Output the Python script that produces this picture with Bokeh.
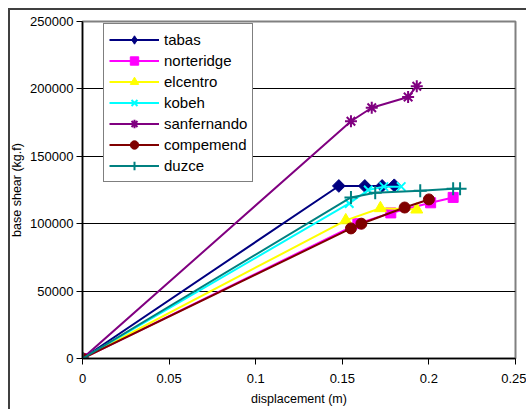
import numpy as np
from bokeh.plotting import figure
from bokeh.models import FixedTicker, Range1d, Legend, LegendItem
from bokeh.embed import file_html
from bokeh.resources import INLINE

# ---- data -------------------------------------------------------------
x_ticks = [0, 0.05, 0.1, 0.15, 0.2, 0.25]
x_tick_labels = ["0", "0.05", "0.1", "0.15", "0.2", "0.25"]
y_ticks = [0, 50000, 100000, 150000, 200000, 250000]
y_tick_labels = ["0", "50000", "100000", "150000", "200000", "250000"]

series_names = ["tabas", "norteridge", "elcentro", "kobeh",
                "sanfernando", "compemend", "duzce"]

tabas_x = [0, 0.148, 0.163, 0.173, 0.180]
tabas_y = [0, 128000, 128000, 128000, 128500]

norteridge_x = [0, 0.159, 0.178, 0.201, 0.214]
norteridge_y = [0, 100000, 108000, 115500, 119500]

elcentro_x = [0, 0.152, 0.172, 0.193]
elcentro_y = [0, 102500, 111500, 110500]

kobeh_x = [0, 0.154, 0.165, 0.174, 0.184]
kobeh_y = [0, 115000, 125000, 127500, 127500]

sanfernando_x = [0, 0.155, 0.167, 0.188, 0.193]
sanfernando_y = [0, 176000, 186000, 194000, 202000]

compemend_x = [0, 0.155, 0.161, 0.186, 0.200]
compemend_y = [0, 96500, 100000, 112000, 118000]

duzce_x = [0, 0.155, 0.169, 0.195, 0.214, 0.218]
duzce_y = [0, 119500, 123000, 124500, 126000, 126000]

series_x = [tabas_x, norteridge_x, elcentro_x, kobeh_x,
            sanfernando_x, compemend_x, duzce_x]
series_y = [tabas_y, norteridge_y, elcentro_y, kobeh_y,
            sanfernando_y, compemend_y, duzce_y]

# ---- styles -----------------------------------------------------------
colors = ["#000080", "#FF00FF", "#FFFF00", "#00FFFF",
          "#800080", "#800000", "#008080"]
markers = ["square", "square", "triangle", "x",
           "asterisk", "circle", "cross"]
legend_markers = ["diamond", "square", "triangle", "x",
                  "asterisk", "circle", "cross"]
sizes = [9, 10, 12, 12, 12, 11, 13]
angles = [np.pi / 4, 0, 0, 0, 0, 0, 0]
mline = [1, 1, 1, 2, 2, 1, 2]

FONT = "Liberation Sans"

p = figure(width=526, height=409, output_backend="svg", toolbar_location=None,
           x_range=Range1d(0, 0.25), y_range=Range1d(0, 250000),
           min_border_left=82, min_border_right=11,
           min_border_top=21, min_border_bottom=51)

p.border_fill_alpha = 0
p.background_fill_color = "white"
p.styles = {
    "background": "linear-gradient(#404040,#404040) 8px 8px / 2px 100% no-repeat, "
                  "linear-gradient(#404040,#404040) 8px 8px / 100% 2px no-repeat, #ffffff"
}
p.outline_line_color = "#808080"
p.outline_line_width = 2

# axes
p.xaxis.ticker = FixedTicker(ticks=x_ticks)
p.yaxis.ticker = FixedTicker(ticks=y_ticks)
p.xaxis.major_label_overrides = dict(zip(x_ticks, x_tick_labels))
p.yaxis.major_label_overrides = dict(zip(y_ticks, y_tick_labels))
for ax in (p.xaxis, p.yaxis):
    ax.minor_tick_line_color = None
    ax.major_tick_out = 6
    ax.major_tick_in = 0
    ax.axis_line_color = "black"
    ax.axis_line_width = 1.5
    ax.major_tick_line_color = "black"
    ax.major_tick_line_width = 1
    ax.major_label_text_font = FONT
    ax.major_label_text_font_size = "13px"
    ax.major_label_text_color = "black"
    ax.axis_label_text_font = FONT
    ax.axis_label_text_font_size = "12.5px"
    ax.axis_label_text_font_style = "normal"
    ax.axis_label_text_color = "black"

p.xaxis.axis_label = "displacement (m)"
p.yaxis.axis_label = "base shear (kg.f)"
p.xaxis.major_label_standoff = 9
p.xaxis.axis_label_standoff = 6
p.yaxis.major_label_standoff = 3
p.yaxis.axis_label_standoff = 3

p.xgrid.visible = False
p.ygrid.ticker = FixedTicker(ticks=y_ticks[1:-1])
p.ygrid.grid_line_color = "black"
p.ygrid.grid_line_width = 1

# series
items = []
for name, xs, ys, c, m, lm, s, a, mw in zip(series_names, series_x, series_y,
                                             colors, markers, legend_markers,
                                             sizes, angles, mline):
    r1 = p.line(xs, ys, line_color=c, line_width=2)
    if lm != m:
        # smaller diamond hidden under the rotated square; used as legend swatch
        r3 = p.scatter(xs, ys, marker=lm, size=s, fill_color=c,
                       line_color=c, line_width=mw)
    r2 = p.scatter(xs, ys, marker=m, size=s, angle=a,
                   fill_color=c, line_color=c, line_width=mw)
    if lm != m:
        items.append(LegendItem(label=name, renderers=[r1, r3]))
    else:
        items.append(LegendItem(label=name, renderers=[r1, r2]))

legend = Legend(items=items, location=(21, 176))
legend.margin = 0
legend.padding = 5
legend.spacing = 0
legend.glyph_width = 50
legend.glyph_height = 21
legend.label_height = 21
legend.label_standoff = 5
legend.label_text_font = FONT
legend.label_text_font_size = "15px"
legend.label_text_color = "black"
legend.border_line_color = "black"
legend.border_line_width = 1
legend.background_fill_color = "white"
legend.background_fill_alpha = 1
p.add_layout(legend, "center")

open("out.html", "w").write(file_html(p, INLINE))
